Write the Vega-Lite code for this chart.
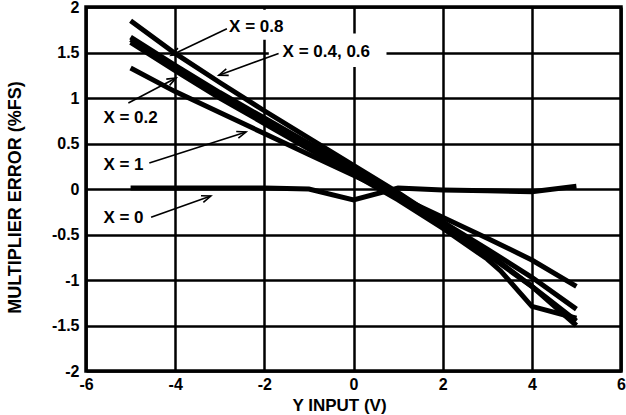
{
  "$schema": "https://vega.github.io/schema/vega-lite/v6.json",
  "width": 535,
  "height": 364,
  "autosize": {"type": "none"},
  "padding": {"left": 86, "top": 7, "right": 5, "bottom": 44},
  "background": "white",
  "view": {"stroke": "black", "strokeWidth": 3.5},
  "config": {
    "view": {"stroke": "black", "strokeWidth": 3.5},
    "font": "Liberation Sans",
    "axis": {"labelFontWeight": 700, "gridWidth": 2.5, "gridColor": "#000000", "gridOpacity": 1}
  },
  "datasets": {
    "series": [
      {"curve": "X = 1", "yin": -5, "err": 1.33},
      {"curve": "X = 1", "yin": -4, "err": 1.07},
      {"curve": "X = 1", "yin": -3, "err": 0.84},
      {"curve": "X = 1", "yin": -2, "err": 0.61},
      {"curve": "X = 1", "yin": -1, "err": 0.38},
      {"curve": "X = 1", "yin": 0, "err": 0.15},
      {"curve": "X = 1", "yin": 1, "err": -0.08},
      {"curve": "X = 1", "yin": 2, "err": -0.31},
      {"curve": "X = 1", "yin": 3, "err": -0.54},
      {"curve": "X = 1", "yin": 4, "err": -0.78},
      {"curve": "X = 1", "yin": 5, "err": -1.07},
      {"curve": "X = 0.8", "yin": -5, "err": 1.85},
      {"curve": "X = 0.8", "yin": -4, "err": 1.49},
      {"curve": "X = 0.8", "yin": -3, "err": 1.17},
      {"curve": "X = 0.8", "yin": -2, "err": 0.86},
      {"curve": "X = 0.8", "yin": -1, "err": 0.56},
      {"curve": "X = 0.8", "yin": 0, "err": 0.26},
      {"curve": "X = 0.8", "yin": 1, "err": -0.04},
      {"curve": "X = 0.8", "yin": 2, "err": -0.36},
      {"curve": "X = 0.8", "yin": 3, "err": -0.7},
      {"curve": "X = 0.8", "yin": 4, "err": -1.07},
      {"curve": "X = 0.8", "yin": 5, "err": -1.5},
      {"curve": "X = 0.6", "yin": -5, "err": 1.67},
      {"curve": "X = 0.6", "yin": -4, "err": 1.36},
      {"curve": "X = 0.6", "yin": -3, "err": 1.06},
      {"curve": "X = 0.6", "yin": -2, "err": 0.78},
      {"curve": "X = 0.6", "yin": -1, "err": 0.5},
      {"curve": "X = 0.6", "yin": 0, "err": 0.22},
      {"curve": "X = 0.6", "yin": 1, "err": -0.06},
      {"curve": "X = 0.6", "yin": 2, "err": -0.36},
      {"curve": "X = 0.6", "yin": 3, "err": -0.66},
      {"curve": "X = 0.6", "yin": 4, "err": -0.97},
      {"curve": "X = 0.6", "yin": 5, "err": -1.32},
      {"curve": "X = 0.4", "yin": -5, "err": 1.64},
      {"curve": "X = 0.4", "yin": -4, "err": 1.33},
      {"curve": "X = 0.4", "yin": -3, "err": 1.03},
      {"curve": "X = 0.4", "yin": -2, "err": 0.75},
      {"curve": "X = 0.4", "yin": -1, "err": 0.47},
      {"curve": "X = 0.4", "yin": 0, "err": 0.19},
      {"curve": "X = 0.4", "yin": 1, "err": -0.09},
      {"curve": "X = 0.4", "yin": 2, "err": -0.4},
      {"curve": "X = 0.4", "yin": 3, "err": -0.72},
      {"curve": "X = 0.4", "yin": 4, "err": -1.07},
      {"curve": "X = 0.4", "yin": 5, "err": -1.45},
      {"curve": "X = 0.2", "yin": -5, "err": 1.61},
      {"curve": "X = 0.2", "yin": -4, "err": 1.3},
      {"curve": "X = 0.2", "yin": -3, "err": 1.0},
      {"curve": "X = 0.2", "yin": -2, "err": 0.72},
      {"curve": "X = 0.2", "yin": -1, "err": 0.44},
      {"curve": "X = 0.2", "yin": 0, "err": 0.16},
      {"curve": "X = 0.2", "yin": 1, "err": -0.12},
      {"curve": "X = 0.2", "yin": 2, "err": -0.43},
      {"curve": "X = 0.2", "yin": 3, "err": -0.77},
      {"curve": "X = 0.2", "yin": 3.3, "err": -0.9},
      {"curve": "X = 0.2", "yin": 4, "err": -1.29},
      {"curve": "X = 0.2", "yin": 5, "err": -1.42},
      {"curve": "X = 0", "yin": -5, "err": 0.01},
      {"curve": "X = 0", "yin": -4, "err": 0.01},
      {"curve": "X = 0", "yin": -3, "err": 0.01},
      {"curve": "X = 0", "yin": -2, "err": 0.01},
      {"curve": "X = 0", "yin": -1, "err": 0.0},
      {"curve": "X = 0", "yin": 0, "err": -0.12},
      {"curve": "X = 0", "yin": 1, "err": 0.01},
      {"curve": "X = 0", "yin": 2, "err": -0.01},
      {"curve": "X = 0", "yin": 3, "err": -0.02},
      {"curve": "X = 0", "yin": 4, "err": -0.03},
      {"curve": "X = 0", "yin": 5, "err": 0.03}
    ],
    "boxes": [
      {"x1": -2.84, "x2": -1.37, "y1": 1.64, "y2": 1.97},
      {"x1": -1.9, "x2": 0.74, "y1": 1.34, "y2": 1.71}
    ],
    "notes": [
      {"label": "X = 0.8", "lx": -2.79, "ly": 1.78, "sx": -2.84, "sy": 1.76, "tx": -4.09, "ty": 1.47},
      {"label": "X = 0.4, 0.6", "lx": -1.59, "ly": 1.505, "sx": -1.68, "sy": 1.49, "tx": -3.02, "ty": 1.25},
      {"label": "X = 0.2", "lx": -5.61, "ly": 0.78, "sx": -5.05, "sy": 0.945, "tx": -3.98, "ty": 1.22},
      {"label": "X = 1", "lx": -5.61, "ly": 0.264, "sx": -4.58, "sy": 0.286, "tx": -2.41, "ty": 0.626},
      {"label": "X = 0", "lx": -5.61, "ly": -0.32, "sx": -4.54, "sy": -0.31, "tx": -3.2, "ty": -0.077}
    ]
  },
  "layer": [
    {
      "data": {"name": "boxes"},
      "mark": {"type": "rect", "fill": "white", "stroke": null},
      "encoding": {
        "x": {"field": "x1", "type": "quantitative", "scale": {"domain": [-6, 6], "nice": false},
          "axis": {"values": [-6, -4, -2, 0, 2, 4, 6], "title": "Y INPUT (V)", "labelFlush": false, "labelPadding": 5,
            "grid": true, "gridColor": "#000000", "gridOpacity": 1, "gridWidth": 2.5,
            "domain": false, "ticks": false,
            "labelFont": "Liberation Sans", "labelFontWeight": 700, "labelFontSize": 16, "labelColor": "#000000",
            "titleFont": "Liberation Sans", "titleFontWeight": 700, "titleFontSize": 17, "titleColor": "#000000",
            "labelExpr": "datum.value < 0 ? '-' + format(-datum.value, '~g') : format(datum.value, '~g')",
            "titleX": 253, "titleY": 34, "titleBaseline": "middle", "titleAnchor": "start", "titleAlign": "center"}},
        "x2": {"field": "x2"},
        "y": {"field": "y1", "type": "quantitative", "scale": {"domain": [-2, 2], "nice": false},
          "axis": {"values": [-2, -1.5, -1, -0.5, 0, 0.5, 1, 1.5, 2], "title": "MULTIPLIER ERROR (%FS)", "labelPadding": 7,
            "grid": true, "gridColor": "#000000", "gridOpacity": 1, "gridWidth": 2.5,
            "domain": false, "ticks": false,
            "labelFont": "Liberation Sans", "labelFontWeight": 700, "labelFontSize": 16, "labelColor": "#000000",
            "titleFont": "Liberation Sans", "titleFontWeight": 700, "titleFontSize": 18, "titleColor": "#000000",
            "labelExpr": "datum.value < 0 ? '-' + format(-datum.value, '~g') : format(datum.value, '~g')",
            "titleX": -71, "titleY": 190, "titleAngle": -90, "titleBaseline": "middle", "titleAlign": "center", "titleAnchor": "start"}},
        "y2": {"field": "y2"}
      }
    },
    {
      "data": {"name": "series"},
      "mark": {"type": "line", "color": "#000000", "strokeWidth": 5, "strokeJoin": "miter", "strokeCap": "butt"},
      "encoding": {
        "x": {"field": "yin", "type": "quantitative"},
        "y": {"field": "err", "type": "quantitative"},
        "detail": {"field": "curve"},
        "order": {"field": "yin"}
      }
    },
    {
      "data": {"name": "notes"},
      "mark": {"type": "rule", "color": "#000000", "strokeWidth": 1.6},
      "encoding": {
        "x": {"field": "sx", "type": "quantitative"},
        "y": {"field": "sy", "type": "quantitative"},
        "x2": {"field": "tx"},
        "y2": {"field": "ty"}
      }
    },
    {
      "data": {"name": "notes"},
      "transform": [
        {"calculate": "atan2((datum.tx - datum.sx) * 44.6, (datum.ty - datum.sy) * 91) * 180 / PI", "as": "ang"}
      ],
      "mark": {"type": "point", "shape": "M-0.5,1.3L0,0L0.5,1.3", "filled": false, "stroke": "#000000", "strokeWidth": 1.6, "size": 200, "opacity": 1},
      "encoding": {
        "x": {"field": "tx", "type": "quantitative"},
        "y": {"field": "ty", "type": "quantitative"},
        "angle": {"field": "ang", "type": "quantitative", "scale": null}
      }
    },
    {
      "data": {"name": "notes"},
      "mark": {"type": "text", "align": "left", "baseline": "middle", "font": "Liberation Sans", "fontWeight": 700, "fontSize": 17, "color": "#000000"},
      "encoding": {
        "x": {"field": "lx", "type": "quantitative"},
        "y": {"field": "ly", "type": "quantitative"},
        "text": {"field": "label"}
      }
    }
  ]
}
